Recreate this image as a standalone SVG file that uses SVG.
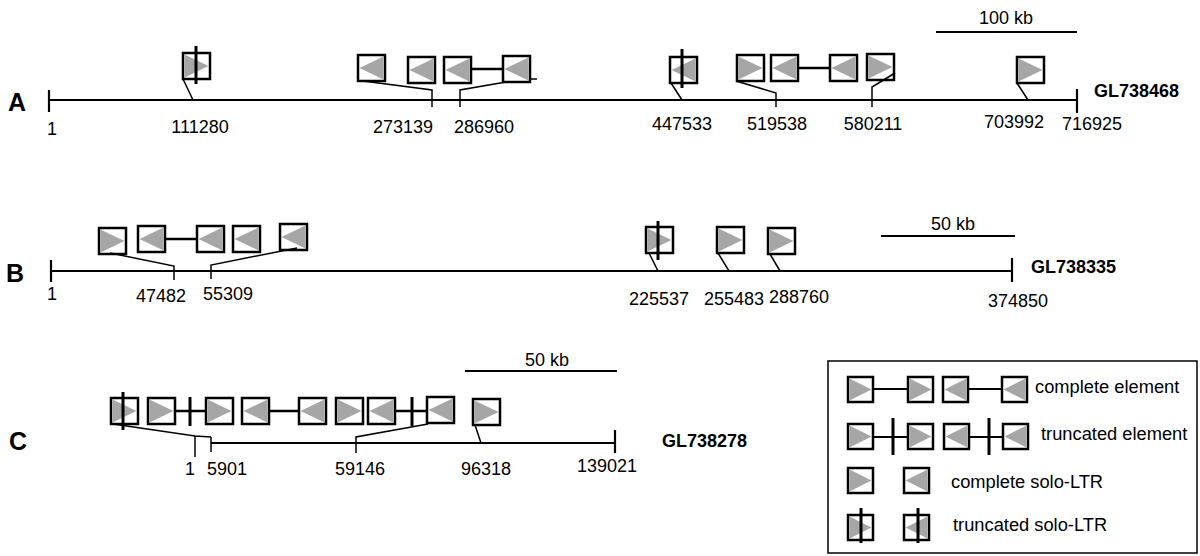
<svg xmlns="http://www.w3.org/2000/svg" xmlns:xlink="http://www.w3.org/1999/xlink" width="1200" height="556" viewBox="0 0 1200 556">
<style>
  .bx{fill:#fff;stroke:#000;stroke-width:2.5}
  .tri{fill:#a6a6a6;stroke:none}
  .ax{stroke:#000;stroke-width:2.2;fill:none}
  .cn{stroke:#000;stroke-width:1.5;fill:none}
  .lc{stroke:#000;stroke-width:2;fill:none}
  .body{stroke:#000;stroke-width:2.5;fill:none}
  .bar{stroke:#000;stroke-width:3;fill:none}
  .lbl{font-family:"Liberation Sans",Arial,sans-serif;font-size:18px;fill:#000;text-anchor:middle}
  .nm{font-family:"Liberation Sans",Arial,sans-serif;font-size:18px;font-weight:bold;fill:#000}
  .row{font-family:"Liberation Sans",Arial,sans-serif;font-size:25px;font-weight:bold;fill:#000}
  .leg{font-family:"Liberation Sans",Arial,sans-serif;font-size:18.3px;fill:#000}
</style>
<defs>
  <g id="R"><rect class="bx" x="0" y="0" width="27" height="26"/><polygon class="tri" points="1.5,1.5 1.5,24.5 25.5,13"/></g>
  <g id="L"><rect class="bx" x="0" y="0" width="27" height="26"/><polygon class="tri" points="25.5,1.5 25.5,24.5 1.5,13"/></g>
  <g id="r"><rect class="bx" x="0" y="0" width="25" height="25"/><polygon class="tri" points="1.5,1.5 1.5,23.5 23.5,12.5"/></g>
  <g id="l"><rect class="bx" x="0" y="0" width="25" height="25"/><polygon class="tri" points="23.5,1.5 23.5,23.5 1.5,12.5"/></g>
</defs>
<rect width="1200" height="556" fill="#fff"/>

<!-- Row A -->
<g id="rowA-axis">
  <text class="row" x="8" y="111">A</text>
  <line class="ax" x1="49" y1="100" x2="1077" y2="100"/>
  <line class="ax" x1="49" y1="90" x2="49" y2="112"/>
  <line class="ax" x1="1077" y1="89" x2="1077" y2="113"/>
  <line class="ax" x1="936" y1="32" x2="1077" y2="32"/>
  <text class="lbl" x="1006" y="24">100 kb</text>
  <text class="nm" x="1094" y="97">GL738468</text>
  <text class="lbl" x="52" y="135">1</text>
  <text class="lbl" x="200" y="133">111280</text>
  <text class="lbl" x="403" y="133">273139</text>
  <text class="lbl" x="484" y="133">286960</text>
  <text class="lbl" x="682" y="130">447533</text>
  <text class="lbl" x="777" y="130">519538</text>
  <text class="lbl" x="873" y="130">580211</text>
  <text class="lbl" x="1014" y="128">703992</text>
  <text class="lbl" x="1092" y="130">716925</text>
</g>
<g id="A-111280"><use xlink:href="#R" x="183" y="53"/><line class="bar" x1="196" y1="46" x2="196" y2="84"/></g>
<g id="A-273139"><use xlink:href="#L" x="358" y="55"/></g>
<g id="A-286960-solo"><use xlink:href="#L" x="408" y="57"/></g>
<g id="A-286960"><line class="body" x1="471" y1="69" x2="503" y2="69"/><use xlink:href="#L" x="444" y="57"/><use xlink:href="#L" x="503" y="56"/></g>
<g id="A-447533"><use xlink:href="#L" x="670" y="57"/><line class="bar" x1="682" y1="49" x2="682" y2="88"/></g>
<g id="A-519538"><line class="body" x1="798" y1="68" x2="830" y2="68"/><use xlink:href="#R" x="737" y="55"/><use xlink:href="#L" x="771" y="55"/><use xlink:href="#L" x="830" y="55"/></g>
<g id="A-580211"><use xlink:href="#R" x="867" y="54"/></g>
<g id="A-703992"><use xlink:href="#R" x="1017" y="57"/></g>

<!-- Row B -->
<g id="rowB-axis">
  <text class="row" x="6" y="282">B</text>
  <line class="ax" x1="51" y1="271" x2="1012" y2="271"/>
  <line class="ax" x1="51" y1="260" x2="51" y2="282"/>
  <line class="ax" x1="1012" y1="258" x2="1012" y2="282"/>
  <line class="ax" x1="881" y1="236" x2="1015" y2="236"/>
  <text class="lbl" x="953" y="230">50 kb</text>
  <text class="nm" x="1031" y="273">GL738335</text>
  <text class="lbl" x="52" y="300">1</text>
  <text class="lbl" x="161" y="302">47482</text>
  <text class="lbl" x="228" y="300">55309</text>
  <text class="lbl" x="659" y="305">225537</text>
  <text class="lbl" x="734" y="305">255483</text>
  <text class="lbl" x="799" y="303">288760</text>
  <text class="lbl" x="1018" y="307">374850</text>
</g>
<g id="B-47482"><use xlink:href="#R" x="99" y="228"/></g>
<g id="B-element"><line class="body" x1="165" y1="239" x2="197" y2="239"/><use xlink:href="#L" x="138" y="226"/><use xlink:href="#L" x="197" y="226"/></g>
<g id="B-solo2"><use xlink:href="#L" x="233" y="226"/></g>
<g id="B-55309"><use xlink:href="#L" x="280" y="224"/></g>
<g id="B-225537"><use xlink:href="#R" x="646" y="227"/><line class="bar" x1="658" y1="221" x2="658" y2="260"/></g>
<g id="B-255483"><use xlink:href="#R" x="717" y="227"/></g>
<g id="B-288760"><use xlink:href="#R" x="768" y="228"/></g>

<!-- Row C -->
<g id="rowC-axis">
  <text class="row" x="9" y="450">C</text>
  <line class="ax" x1="211" y1="443" x2="615" y2="443"/>
  <line class="ax" x1="615" y1="430" x2="615" y2="453"/>
  <line class="ax" x1="465" y1="371" x2="617" y2="371"/>
  <text class="lbl" x="547" y="366">50 kb</text>
  <text class="nm" x="662" y="447">GL738278</text>
  <text class="lbl" x="190" y="475">1</text>
  <text class="lbl" x="227" y="475">5901</text>
  <text class="lbl" x="360" y="475">59146</text>
  <text class="lbl" x="486" y="475">96318</text>
  <text class="lbl" x="607" y="472">139021</text>
</g>
<g id="C-array">
  <line class="body" x1="174" y1="411" x2="206" y2="411"/>
  <line class="body" x1="268" y1="411" x2="299" y2="411"/>
  <line class="body" x1="394" y1="411" x2="427" y2="411"/>
  <use xlink:href="#R" x="111" y="398"/>
  <use xlink:href="#R" x="148" y="398"/>
  <use xlink:href="#R" x="206" y="398"/>
  <use xlink:href="#L" x="242" y="398"/>
  <use xlink:href="#L" x="299" y="398"/>
  <use xlink:href="#R" x="336" y="398"/>
  <use xlink:href="#L" x="368" y="398"/>
  <use xlink:href="#L" x="427" y="397"/>
  <line class="bar" x1="123" y1="392" x2="123" y2="430"/>
  <line class="bar" x1="190" y1="397" x2="190" y2="426"/>
  <line class="bar" x1="412" y1="397" x2="412" y2="426"/>
</g>
<g id="C-96318"><use xlink:href="#R" x="473" y="399"/></g>

<!-- connectors -->
<g id="connectors">
  <polyline class="cn" points="183,79 193,100"/>
  <polyline class="cn" points="363,81 432,90 432,107"/>
  <polyline class="cn" points="506,82 460,90 460,107"/>
  <line class="cn" x1="530" y1="79" x2="537" y2="79"/>
  <polyline class="cn" points="671,83 682,100"/>
  <polyline class="cn" points="736,81 776,93 776,107"/>
  <polyline class="cn" points="895,73 872,87 872,107"/>
  <polyline class="cn" points="1017,83 1028,100"/>
  <polyline class="cn" points="110,253 174,266 174,280"/>
  <polyline class="cn" points="297,248 211,265 211,279"/>
  <polyline class="cn" points="649,253 658,271"/>
  <polyline class="cn" points="718,253 729,271"/>
  <polyline class="cn" points="770,254 780,271"/>
  <polyline class="cn" points="113,424 195,436 211,437"/>
  <line class="cn" x1="195" y1="436" x2="195" y2="457"/>
  <line class="cn" x1="211" y1="437" x2="211" y2="452"/>
  <polyline class="cn" points="428,424 356,437 356,453"/>
  <polyline class="cn" points="475,425 481,443"/>
</g>

<!-- legend -->
<g id="legend">
  <rect x="828" y="361" width="369" height="192" fill="#fff" stroke="#000" stroke-width="1.5"/>
  <g id="leg-complete-element">
    <line class="lc" x1="873" y1="389" x2="908" y2="389"/>
    <line class="lc" x1="968" y1="389" x2="1002" y2="389"/>
    <use xlink:href="#r" x="848" y="377"/><use xlink:href="#r" x="908" y="377"/>
    <use xlink:href="#l" x="943" y="377"/><use xlink:href="#l" x="1002" y="377"/>
    <text class="leg" x="1035" y="393">complete element</text>
  </g>
  <g id="leg-truncated-element">
    <line class="lc" x1="873" y1="437" x2="908" y2="437"/>
    <line class="lc" x1="969" y1="437" x2="1003" y2="437"/>
    <line class="bar" x1="893" y1="418" x2="893" y2="455"/>
    <line class="bar" x1="989" y1="418" x2="989" y2="455"/>
    <use xlink:href="#r" x="848" y="424"/><use xlink:href="#r" x="908" y="424"/>
    <use xlink:href="#l" x="944" y="424"/><use xlink:href="#l" x="1003" y="424"/>
    <text class="leg" x="1041" y="440">truncated element</text>
  </g>
  <g id="leg-complete-solo">
    <use xlink:href="#r" x="848" y="468"/><use xlink:href="#l" x="904" y="468"/>
    <text class="leg" x="951" y="488">complete solo-LTR</text>
  </g>
  <g id="leg-truncated-solo">
    <use xlink:href="#r" x="848" y="515"/><use xlink:href="#l" x="904" y="515"/>
    <line class="bar" x1="861" y1="508" x2="861" y2="543"/>
    <line class="bar" x1="918" y1="508" x2="918" y2="543"/>
    <text class="leg" x="953" y="531">truncated solo-LTR</text>
  </g>
</g>
</svg>
